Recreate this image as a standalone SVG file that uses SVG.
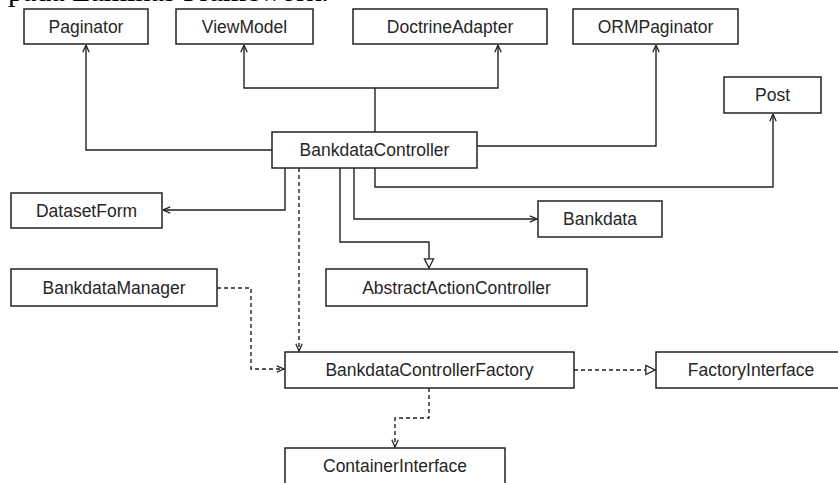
<svg xmlns="http://www.w3.org/2000/svg" width="838" height="483" viewBox="0 0 838 483">
<style>
  .box { fill: #ffffff; stroke: #222222; stroke-width: 1.5; }
  .lbl { font-family: "Liberation Sans", Arial, sans-serif; font-size: 17.5px; fill: #262626; text-anchor: middle; }
  .ln { fill: none; stroke: #222222; stroke-width: 1.4; }
  .dash { stroke-dasharray: 4 3; }
  .cap { font-family: "Liberation Serif", "Times New Roman", serif; font-size: 30px; fill: #000000; }
</style>
<defs>
  <marker id="open" viewBox="0 0 10 10" refX="10" refY="5" markerWidth="9" markerHeight="8" markerUnits="userSpaceOnUse" orient="auto">
    <path d="M1,1 L10,5 L1,9" fill="none" stroke="#222222" stroke-width="1.6"/>
  </marker>
  <marker id="tri" viewBox="0 0 12 12" refX="11" refY="6" markerWidth="11" markerHeight="12" markerUnits="userSpaceOnUse" orient="auto">
    <path d="M1,1 L11,6 L1,11 Z" fill="#ffffff" stroke="#222222" stroke-width="1.4"/>
  </marker>
</defs>
<rect width="838" height="483" fill="#ffffff"/>
<text class="cap" x="8" y="1">pada Laminas Framework.</text>

<g id="connectors">
  <polyline class="ln" points="272,150 86,150 86,45" marker-end="url(#open)"/>
  <polyline class="ln" points="375,132 375,88 244,88 244,45" marker-end="url(#open)"/>
  <polyline class="ln" points="375,88 498,88 498,45" marker-end="url(#open)"/>
  <polyline class="ln" points="477,146 656,146 656,45" marker-end="url(#open)"/>
  <polyline class="ln" points="375,168 375,187 773,187 773,114" marker-end="url(#open)"/>
  <polyline class="ln" points="285,168 285,210 163,210" marker-end="url(#open)"/>
  <polyline class="ln" points="354,168 354,219 537,219" marker-end="url(#open)"/>
  <polyline class="ln" points="340,168 340,242 429,242 429,268" marker-end="url(#tri)"/>
  <polyline class="ln dash" points="299,168 299,351" marker-end="url(#open)"/>
  <polyline class="ln dash" points="217,288 251,288 251,369 284,369" marker-end="url(#open)"/>
  <polyline class="ln dash" points="574,370 655,370" marker-end="url(#tri)"/>
  <polyline class="ln dash" points="429,388 429,418 395,418 395,447" marker-end="url(#open)"/>
</g>

<g id="Paginator"><rect class="box" x="24" y="9" width="124" height="35"/><text class="lbl" x="86" y="32.5">Paginator</text></g>
<g id="ViewModel"><rect class="box" x="176" y="9" width="137" height="35"/><text class="lbl" x="244.5" y="32.5">ViewModel</text></g>
<g id="DoctrineAdapter"><rect class="box" x="353" y="9" width="194" height="35"/><text class="lbl" x="450" y="32.5">DoctrineAdapter</text></g>
<g id="ORMPaginator"><rect class="box" x="573" y="9" width="165" height="35"/><text class="lbl" x="655.5" y="32.5">ORMPaginator</text></g>
<g id="Post"><rect class="box" x="724" y="77" width="97" height="36"/><text class="lbl" x="772.5" y="101">Post</text></g>
<g id="BankdataController"><rect class="box" x="272" y="132" width="205" height="36"/><text class="lbl" x="374.5" y="156">BankdataController</text></g>
<g id="DatasetForm"><rect class="box" x="11" y="193" width="151" height="35"/><text class="lbl" x="86.5" y="216.5">DatasetForm</text></g>
<g id="Bankdata"><rect class="box" x="538" y="201" width="124" height="36"/><text class="lbl" x="600" y="225">Bankdata</text></g>
<g id="BankdataManager"><rect class="box" x="11" y="269" width="206" height="37"/><text class="lbl" x="114" y="293.5">BankdataManager</text></g>
<g id="AbstractActionController"><rect class="box" x="326" y="269" width="261" height="37"/><text class="lbl" x="456.5" y="293.5">AbstractActionController</text></g>
<g id="BankdataControllerFactory"><rect class="box" x="285" y="352" width="289" height="36"/><text class="lbl" x="429.5" y="376">BankdataControllerFactory</text></g>
<g id="FactoryInterface"><rect class="box" x="656" y="352" width="190" height="36"/><text class="lbl" x="751" y="376">FactoryInterface</text></g>
<g id="ContainerInterface"><rect class="box" x="285" y="448" width="220" height="40"/><text class="lbl" x="395" y="472">ContainerInterface</text></g>
</svg>
